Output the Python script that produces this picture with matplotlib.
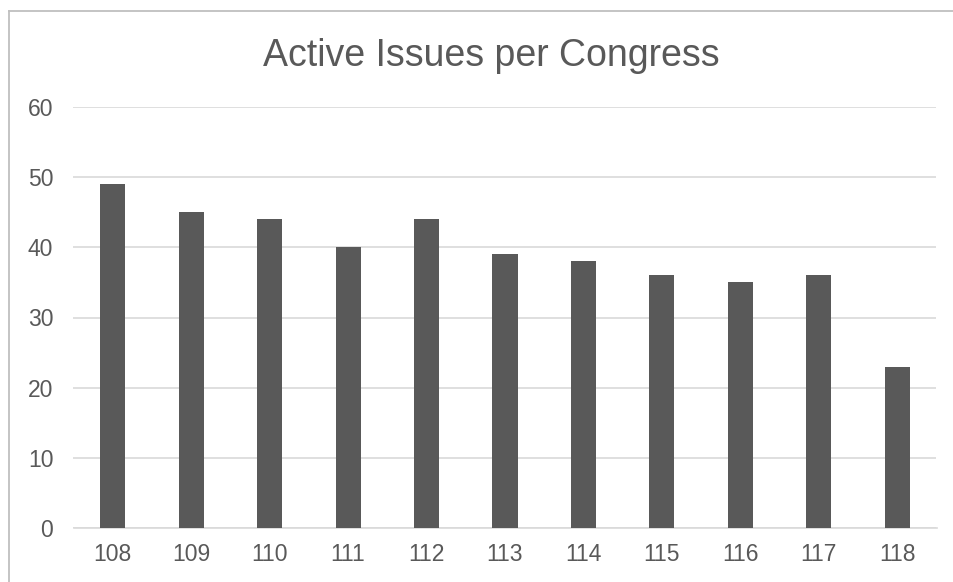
"""Bar chart of active issues per Congress."""

import matplotlib

matplotlib.use("Agg")
import matplotlib.pyplot as plt
from matplotlib.lines import Line2D

plt.rcParams["font.family"] = ["Liberation Sans", "DejaVu Sans"]

congresses = ["108", "109", "110", "111", "112", "113", "114", "115", "116", "117", "118"]
active_issues = [49, 45, 44, 40, 44, 39, 38, 36, 35, 36, 23]
y_ticks = [0, 10, 20, 30, 40, 50, 60]

BAR_COLOR = "#595959"
TEXT_COLOR = "#595959"
GRID_COLOR = "#d9d9d9"

W, H = 954, 582
fig = plt.figure(figsize=(W / 100, H / 100), dpi=100)
ax = fig.add_axes([73.5 / W, 1 - 528 / H, (936.5 - 73.5) / W, (528 - 107) / H])

ax.bar(range(len(congresses)), active_issues, width=0.32, color=BAR_COLOR, zorder=3)

ax.set_xlim(-0.5, len(congresses) - 0.5)
ax.set_ylim(0, 60)
ax.set_yticks(y_ticks)
ax.set_xticks(range(len(congresses)))
ax.set_xticklabels(congresses)

ax.yaxis.grid(True, color=GRID_COLOR, linewidth=1.2, zorder=0)
for side in ["left", "right", "top"]:
    ax.spines[side].set_visible(False)
ax.spines["bottom"].set_color(GRID_COLOR)
ax.spines["bottom"].set_linewidth(1.2)
ax.tick_params(axis="both", length=0, labelsize=16.5, labelcolor=TEXT_COLOR)
ax.tick_params(axis="y", pad=14.5)
ax.tick_params(axis="x", pad=11)

fig.text(491 / W, 1 - 56 / H, "Active Issues per Congress", ha="center", va="center",
         fontsize=27, color=TEXT_COLOR)

# thin frame around the chart area (top and left edges only visible)
fig.add_artist(Line2D([9.5 / W, 9.5 / W], [0, 1 - 11 / H], transform=fig.transFigure,
                      color="#bfbfbf", linewidth=1.3))
fig.add_artist(Line2D([9.5 / W, 1], [1 - 11 / H, 1 - 11 / H], transform=fig.transFigure,
                      color="#bfbfbf", linewidth=1.3))

fig.savefig("out.png", dpi=100)
